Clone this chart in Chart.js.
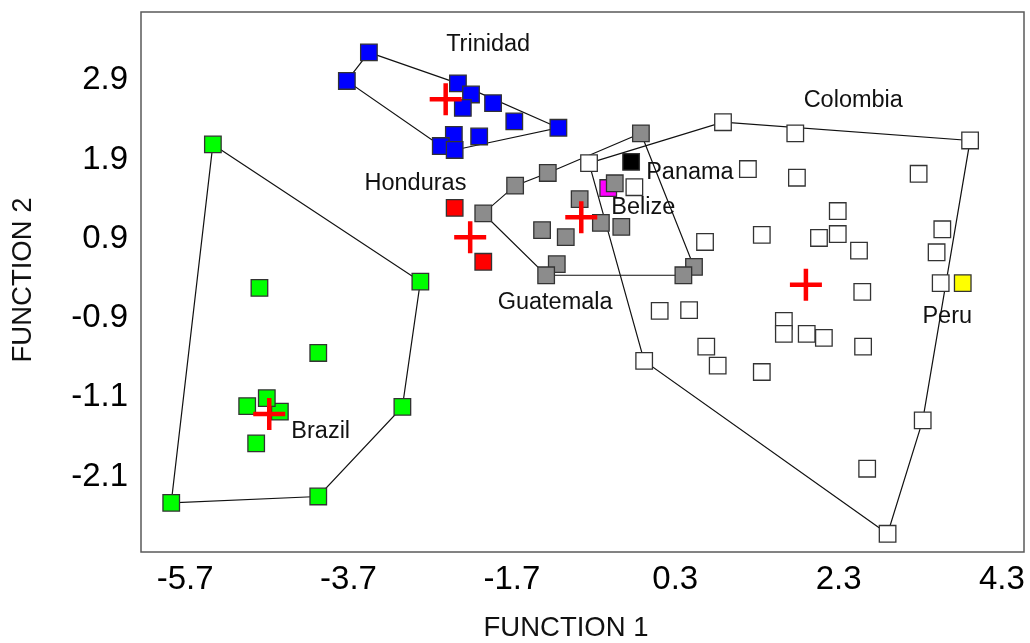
<!DOCTYPE html>
<html><head><meta charset="utf-8">
<script src="https://cdn.jsdelivr.net/npm/chart.js@4.4.0/dist/chart.umd.min.js"></script>
<style>html,body{margin:0;padding:0;background:#fff;}</style>
</head><body>
<canvas id="c" width="1030" height="643"></canvas>
<script>
// ---- Data ----
const xTickValues = [-5.7, -3.7, -1.7, 0.3, 2.3, 4.3];
const xTickLabels = ['-5.7', '-3.7', '-1.7', '0.3', '2.3', '4.3'];
const yTickValues = [2.9, 1.9, 0.9, -0.1, -1.1, -2.1];
const yTickLabels = ['2.9', '1.9', '0.9', '-0.9', '-1.1', '-2.1'];

const brazilX = [-5.36, -2.82, -4.79, -4.07, -4.54, -4.70, -4.94, -3.04, -4.83, -4.07, -5.87];
const brazilY = [2.09, 0.36, 0.28, -0.54, -1.28, -1.11, -1.21, -1.22, -1.68, -2.35, -2.43];
const brazilHull = [0, 1, 7, 9, 10, 0];

const trinidadX = [-3.45, -3.72, -2.36, -2.20, -2.30, -1.93, -1.67, -1.13, -2.10, -2.41, -2.57, -2.40];
const trinidadY = [3.25, 2.89, 2.86, 2.72, 2.55, 2.61, 2.38, 2.30, 2.19, 2.21, 2.07, 2.02];
const trinidadHull = [0, 2, 7, 11, 10, 1, 0];

const hondurasX = [-2.40, -2.05];
const hondurasY = [1.29, 0.61];

const guatemalaX = [-0.12, -1.26, -1.66, -2.05, -0.87, -0.44, -0.61, -0.36, -1.33, -1.04, -1.15, -1.28, 0.53, 0.40];
const guatemalaY = [2.23, 1.73, 1.57, 1.22, 1.40, 1.60, 1.10, 1.05, 1.01, 0.92, 0.58, 0.44, 0.545, 0.44];
const guatemalaHull = [0, 12, 13, 11, 3, 2, 1, 0];

const colombiaX = [-0.755, -0.20, 0.885, 1.77, 3.91, 1.19, 1.79, 3.28, 2.29, 0.665, 1.36, 2.06, 2.29, 2.55, 3.57, 3.50, 3.55, 2.59, 0.11, 0.47, 1.63, 1.63, 1.91, 2.12, 2.60, 0.68, 0.82, 1.36, -0.08, 3.33, 2.65, 2.90];
const colombiaY = [1.855, 1.55, 2.37, 2.23, 2.14, 1.78, 1.67, 1.72, 1.25, 0.86, 0.95, 0.91, 0.96, 0.75, 1.02, 0.73, 0.34, 0.23, -0.01, 0.00, -0.135, -0.30, -0.30, -0.35, -0.46, -0.46, -0.70, -0.78, -0.64, -1.39, -2.00, -2.82];
const colombiaHull = [0, 2, 4, 29, 31, 28, 0];

const panamaX = [-0.24];
const panamaY = [1.87];
const belizeX = [-0.52];
const belizeY = [1.54];
const peruX = [3.82];
const peruY = [0.34];

const centroidX = [-4.67, -2.51, -2.21, -0.85, 1.90];
const centroidY = [-1.31, 2.66, 0.92, 1.17, 0.32];

const labelNames = ['Trinidad', 'Colombia', 'Honduras', 'Panama', 'Belize', 'Guatemala', 'Brazil', 'Peru'];
const labelX = [-1.99, 2.48, -2.88, 0.48, -0.09, -1.17, -4.04, 3.63];
const labelY = [3.35, 2.64, 1.60, 1.73, 1.29, 0.10, -1.53, -0.08];

// ---- Helpers ----
const pts = (xs, ys) => xs.map((x, i) => ({ x: x, y: ys[i] }));
const hullPts = (xs, ys, idx) => idx.map(i => ({ x: xs[i], y: ys[i] }));

const FONT = '"Liberation Sans", Arial, sans-serif';
const markerBase = { pointStyle: 'rect', pointRadius: 11.7, pointHoverRadius: 11.7, pointBorderWidth: 1.3, pointBorderColor: '#333333', showLine: false };
const hullBase = { showLine: true, pointRadius: 0, pointHoverRadius: 0, borderColor: '#111111', borderWidth: 1.2, fill: false, tension: 0, order: 10 };

const datasets = [
  Object.assign({ label: 'Brazil hull', data: hullPts(brazilX, brazilY, brazilHull) }, hullBase),
  Object.assign({ label: 'Trinidad hull', data: hullPts(trinidadX, trinidadY, trinidadHull) }, hullBase),
  Object.assign({ label: 'Guatemala hull', data: hullPts(guatemalaX, guatemalaY, guatemalaHull) }, hullBase),
  Object.assign({ label: 'Colombia hull', data: hullPts(colombiaX, colombiaY, colombiaHull) }, hullBase),
  Object.assign({ label: 'Belize', data: pts(belizeX, belizeY), pointBackgroundColor: '#ff00ff', order: 6 }, markerBase),
  Object.assign({ label: 'Brazil', data: pts(brazilX, brazilY), pointBackgroundColor: '#00ff00', order: 5 }, markerBase),
  Object.assign({ label: 'Trinidad', data: pts(trinidadX, trinidadY), pointBackgroundColor: '#0000ff', order: 5 }, markerBase),
  Object.assign({ label: 'Honduras', data: pts(hondurasX, hondurasY), pointBackgroundColor: '#ff0000', order: 5 }, markerBase),
  Object.assign({ label: 'Guatemala', data: pts(guatemalaX, guatemalaY), pointBackgroundColor: '#8c8c8c', order: 4 }, markerBase),
  Object.assign({ label: 'Colombia', data: pts(colombiaX, colombiaY), pointBackgroundColor: '#ffffff', order: 4 }, markerBase),
  Object.assign({ label: 'Panama', data: pts(panamaX, panamaY), pointBackgroundColor: '#000000', order: 4 }, markerBase),
  Object.assign({ label: 'Peru', data: pts(peruX, peruY), pointBackgroundColor: '#ffff00', order: 4 }, markerBase),
  { label: 'Centroids', data: pts(centroidX, centroidY), pointStyle: 'cross', pointRadius: 16, pointHoverRadius: 16, pointBorderWidth: 4.5, pointBorderColor: '#ff0000', borderColor: '#ff0000', showLine: false, order: 0 }
];

const decorPlugin = {
  id: 'decor',
  afterDatasetsDraw(chart) {
    const ctx = chart.ctx, xs = chart.scales.x, ys = chart.scales.y, a = chart.chartArea;
    ctx.save();
    // group labels
    ctx.fillStyle = '#111111';
    ctx.font = '23.5px ' + FONT;
    ctx.textAlign = 'center';
    ctx.textBaseline = 'middle';
    labelNames.forEach((n, i) => ctx.fillText(n, xs.getPixelForValue(labelX[i]), ys.getPixelForValue(labelY[i])));
    // frame
    ctx.strokeStyle = '#5a5a5a';
    ctx.lineWidth = 1.5;
    ctx.strokeRect(a.left, a.top, a.right - a.left, a.bottom - a.top);
    // axis titles
    ctx.fillStyle = '#111111';
    ctx.font = '27.5px ' + FONT;
    ctx.fillText('FUNCTION 1', 566, 628);
    ctx.translate(23, 280);
    ctx.rotate(-Math.PI / 2);
    ctx.fillText('FUNCTION 2', 0, 0);
    ctx.restore();
  }
};

const noPad = s => { s.paddingTop = 0; s.paddingBottom = 0; s.paddingLeft = 0; s.paddingRight = 0; };

new Chart(document.getElementById('c').getContext('2d'), {
  type: 'scatter',
  data: { datasets: datasets },
  options: {
    responsive: false,
    animation: false,
    devicePixelRatio: 1,
    layout: { autoPadding: false, padding: { top: 12, right: 6, left: 0, bottom: 0 } },
    plugins: { legend: { display: false }, tooltip: { enabled: false } },
    events: [],
    scales: {
      x: {
        type: 'linear', min: -6.24, max: 4.57,
        afterBuildTicks: s => { s.ticks = xTickValues.map(v => ({ value: v })); },
        afterFit: s => { s.height = 91; noPad(s); },
        ticks: { callback: (v, i) => xTickLabels[i], font: { size: 33, family: FONT }, color: '#000', padding: 8, maxRotation: 0, autoSkip: false },
        grid: { display: false, drawTicks: false },
        border: { display: false }
      },
      y: {
        type: 'linear', min: -3.05, max: 3.76,
        afterBuildTicks: s => { s.ticks = yTickValues.map(v => ({ value: v })); },
        afterFit: s => { s.width = 141; noPad(s); },
        ticks: { callback: (v, i) => yTickLabels[i], font: { size: 33, family: FONT }, color: '#000', padding: 13, autoSkip: false },
        grid: { display: false, drawTicks: false },
        border: { display: false }
      }
    }
  },
  plugins: [decorPlugin]
});
</script>
</body></html>
